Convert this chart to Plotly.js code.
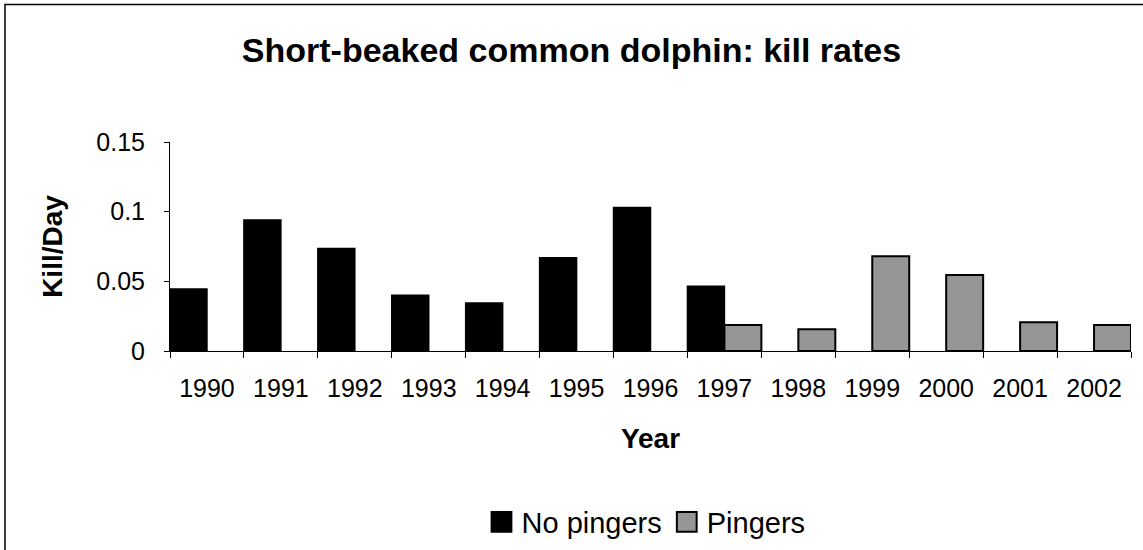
<!DOCTYPE html>
<html>
<head>
<meta charset="utf-8">
<script src="https://cdn.plot.ly/plotly-3.0.1.min.js"></script>
<style>
  html, body { margin: 0; padding: 0; background: #fff; }
  #chart { width: 1143px; height: 550px; }
</style>
</head>
<body>
<div id="chart"></div>
<script>
const years = ["1990","1991","1992","1993","1994","1995","1996","1997","1998","1999","2000","2001","2002"];
const noPingers = [0.0445, 0.094, 0.0735, 0.040, 0.0345, 0.067, 0.103, 0.0465, null, null, null, null, null];
const pingers = [null, null, null, null, null, null, null, 0.0187, 0.0156, 0.068, 0.0546, 0.0206, 0.0187];
const seriesNames = ["No pingers", "Pingers"];
const titleText = "Short-beaked common dolphin: kill rates";
const xTitle = "Year";
const yTitle = "Kill/Day";

const FONT = "Liberation Sans, Arial, sans-serif";

const traces = [
  {
    type: "bar", name: seriesNames[0], x: years, y: noPingers,
    marker: { color: "#000000", line: { color: "#000000", width: 1.5 } },
    hoverinfo: "x+y+name"
  },
  {
    type: "bar", name: seriesNames[1], x: years, y: pingers,
    marker: { color: "#969696", line: { color: "#000000", width: 2 } },
    hoverinfo: "x+y+name"
  }
];

const pl = 170, pr = 1131, pt = 142, pb = 351;
const pw = pr - pl, ph = pb - pt;

const layout = {
  width: 1143, height: 550,
  margin: { l: pl, r: 1143 - pr, t: pt, b: 550 - pb, pad: 0, autoexpand: false },
  paper_bgcolor: "#ffffff", plot_bgcolor: "#ffffff",
  font: { family: FONT, color: "#000000", size: 25 },
  barmode: "group", bargap: 0, bargroupgap: 0,
  title: {
    text: "<b>" + titleText + "</b>",
    font: { family: FONT, size: 34, color: "#000000" },
    x: 0.5, xref: "container", xanchor: "center",
    y: 1 - 50 / 550, yref: "container", yanchor: "middle"
  },
  xaxis: {
    type: "category",
    tickson: "boundaries",
    ticks: "outside", ticklen: 6, tickcolor: "#000", tickwidth: 1,
    showline: true, linecolor: "#000", linewidth: 1,
    showgrid: false, zeroline: false,
    tickfont: { family: FONT, size: 25 },
    ticklabelstandoff: 15,
    automargin: false,
    title: { text: "<b>" + xTitle + "</b>", font: { family: FONT, size: 28 }, standoff: 27 }
  },
  yaxis: {
    range: [0, 0.15], dtick: 0.05, tick0: 0,
    ticks: "outside", ticklen: 5, tickcolor: "#000", tickwidth: 1,
    showline: true, linecolor: "#000", linewidth: 1,
    showgrid: false, zeroline: false,
    tickfont: { family: FONT, size: 25 },
    ticklabelstandoff: 14,
    automargin: false,
    title: { text: "<b>" + yTitle + "</b>", font: { family: FONT, size: 28 }, standoff: 25 }
  },
  showlegend: true,
  legend: {
    orientation: "h",
    x: 646 / 1143, xanchor: "center", xref: "container",
    y: 1 - 522 / 550, yanchor: "middle", yref: "container",
    font: { family: FONT, size: 29, color: "#000" },
    bgcolor: "rgba(0,0,0,0)", borderwidth: 0,
    itemwidth: 30, traceorder: "normal"
  },
  shapes: [
    {
      type: "rect", xref: "paper", yref: "paper",
      x0: (5 - pl) / pw, x1: (1160 - pl) / pw,
      y0: (pb - 570) / ph, y1: (pb - 4.5) / ph,
      line: { color: "#000", width: 1.5 }, fillcolor: "rgba(0,0,0,0)",
      layer: "below"
    }
  ]
};

Plotly.newPlot("chart", traces, layout, { displayModeBar: false, staticPlot: true }).then(function (gd) {
  // enlarge the legend swatches to match the reference's larger squares
  gd.querySelectorAll(".legend .legendpoints path").forEach(function (p) {
    const t = p.getAttribute("transform") || "";
    p.setAttribute("transform", (t + " scale(1.65)").trim());
    p.style.strokeWidth = "1.2px";
  });
});
</script>
</body>
</html>
